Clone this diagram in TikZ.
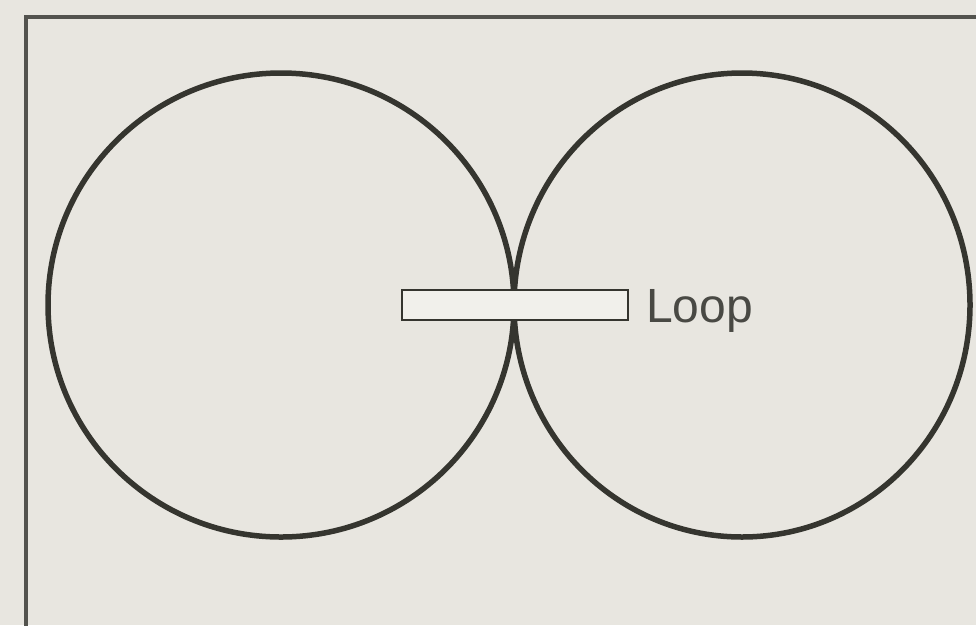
\documentclass[tikz,border=0pt]{standalone}
\usepackage{fontspec}
\setmainfont{Liberation Sans}
\usetikzlibrary{shapes.geometric}
\definecolor{paper}{HTML}{E8E6E0}
\definecolor{ink}{HTML}{35352F}
\definecolor{boxfill}{HTML}{F1F0EB}
\tikzset{
  ring/.style={ellipse, draw=ink, line width=5.5pt, inner sep=0pt},
  loopbox/.style={rectangle, draw=ink, line width=2.8pt, fill=boxfill, inner sep=0pt, minimum width=226pt, minimum height=30pt},
  framedge/.style={draw=ink!85, line width=3.5pt},
  lbl/.style={inner sep=0pt, text=ink!90, font=\fontsize{48}{50}\selectfont}
}
\begin{document}
\begin{tikzpicture}[x=1pt,y=-1pt]
\fill[paper] (0,0) rectangle (976,625);
\useasboundingbox (0,0) rectangle (976,625);
\coordinate (fb) at (26,630);
\coordinate (fc) at (26,17);
\coordinate (fr) at (981,17);
\draw[framedge] (fb) -- (fc) -- (fr);
\node[ring, minimum width=466pt, minimum height=464pt] (leftring) at (281,305) {};
\node[ring, minimum width=456pt, minimum height=464pt] (rightring) at (742,305) {};
\node[loopbox] (loop) at (515,305) {};
\node[lbl, anchor=base west] (looplbl) at (646,322) {Loop};
\end{tikzpicture}
\end{document}
